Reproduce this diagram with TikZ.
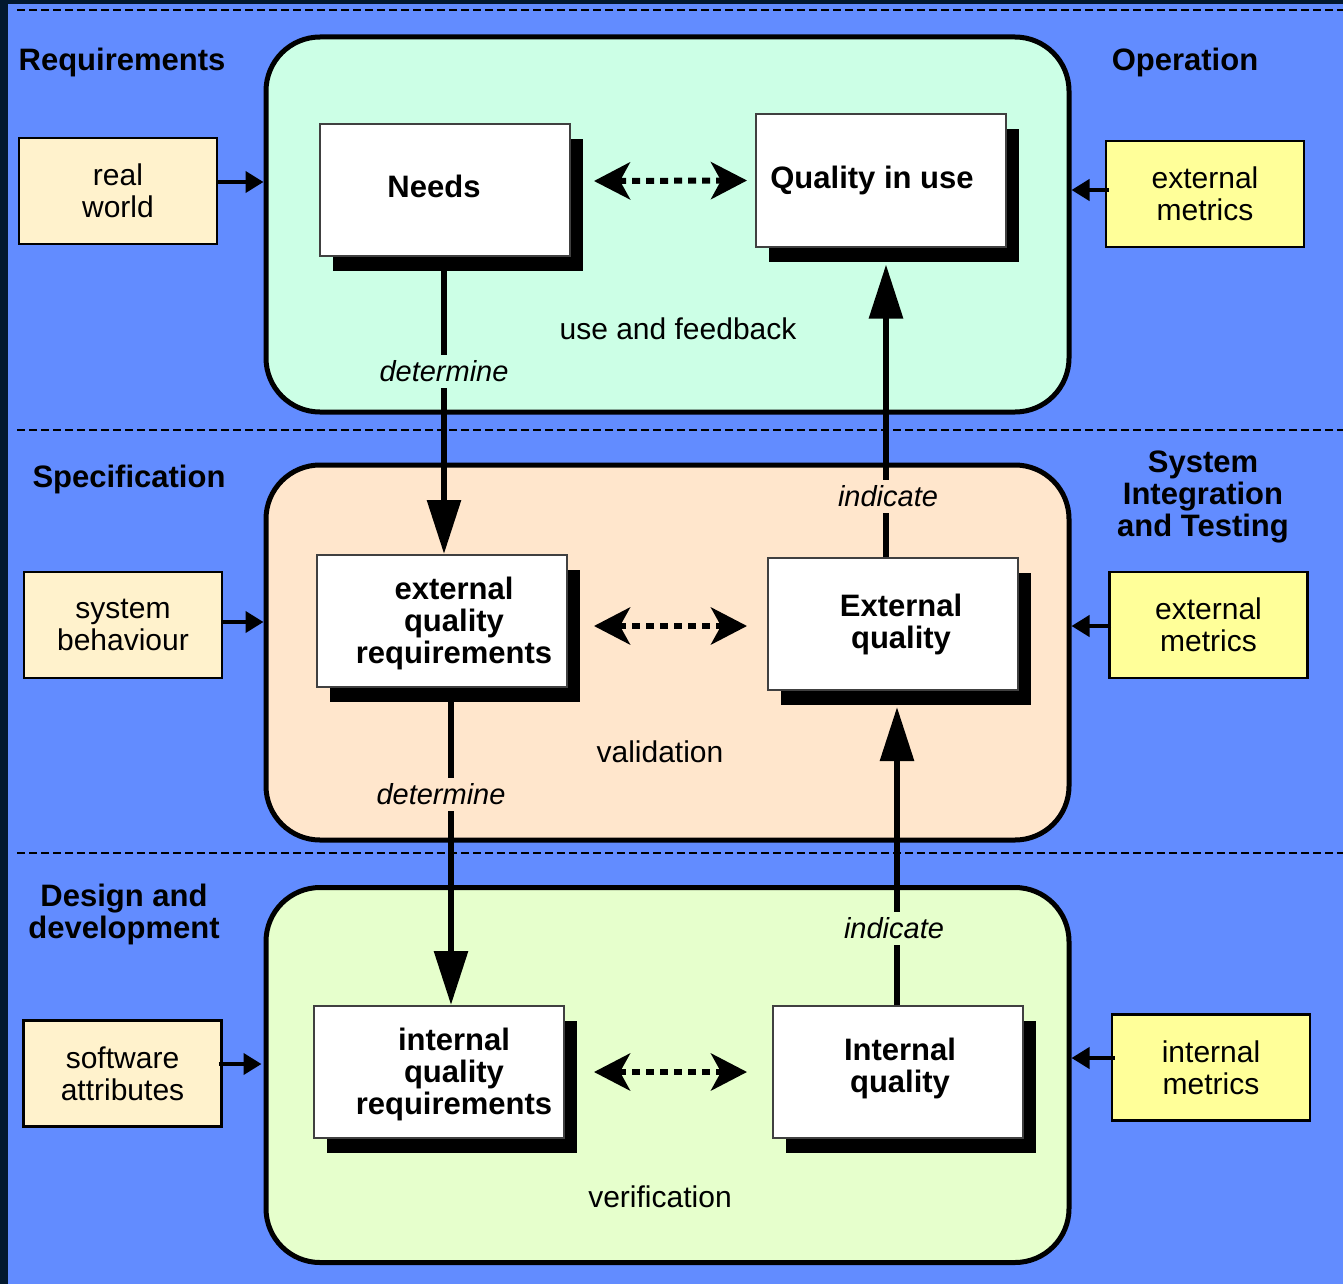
\documentclass[tikz,border=0pt]{standalone}
\usepackage{fontspec}
\setmainfont{Liberation Sans}
\usetikzlibrary{arrows.meta,shadows,calc}
\definecolor{bgblue}{HTML}{628CFF}
\definecolor{darkband}{HTML}{02182E}
\definecolor{mint}{HTML}{CCFFE6}
\definecolor{peach}{HTML}{FFE6CC}
\definecolor{lgreen}{HTML}{E6FFCC}
\definecolor{cream}{HTML}{FFF2CC}
\definecolor{lyellow}{HTML}{FFFF99}
\begin{document}
\begin{tikzpicture}[x=0.5pt,y=-0.5pt,
  region/.style={draw=black, line width=2.5pt, rounded corners=27pt, minimum width=401.5pt, minimum height=187.5pt, inner sep=0pt},
  inbox/.style={draw=black, line width=1.3pt, fill=cream, minimum width=99pt, minimum height=53pt, align=center, inner sep=0pt, font=\fontsize{15}{16}\selectfont},
  metbox/.style={inbox, fill=lyellow},
  qbox/.style={draw=black!75, line width=1pt, fill=white, minimum width=125pt, minimum height=66pt, inner sep=0pt,
    general shadow={fill=black, shadow xshift=6.5pt, shadow yshift=-7.5pt}},
  qtext/.style={align=center, font=\fontsize{15.5}{16}\selectfont\bfseries},
  phase/.style={align=center, font=\fontsize{15.5}{16}\selectfont\bfseries},
  note/.style={font=\fontsize{15}{16}\selectfont},
  verb/.style={font=\fontsize{14.5}{16}\selectfont\itshape, inner sep=3pt},
  bigarrow/.style={line width=3pt, -{Triangle[length=27pt,width=16.5pt]}},
  dotarrow/.style={line width=3pt, dash pattern=on 4pt off 3pt,
    {Stealth[length=18pt,width=18.5pt,inset=5pt]}-{Stealth[length=18pt,width=18.5pt,inset=5pt]}},
  smallarrow/.style={line width=2pt, -{Triangle[length=9pt,width=10.5pt]}},
  sep/.style={line width=0.9pt, dash pattern=on 4pt off 2pt}
]
\useasboundingbox (0,0) rectangle (1343,1284);
\fill[bgblue] (0,0) rectangle (1343,1284);
\fill[darkband] (0,0) rectangle (8,1284);
\fill[darkband] (0,0) rectangle (1343,4);

% separators
\draw[sep] (17,10) -- (1343,10);
\draw[sep] (17,430) -- (1343,430);
\draw[sep] (17,853) -- (1343,853);

% regions
\node[region, fill=mint] (top) at (667.5,224.5) {};
\node[region, fill=peach] (mid) at (667.5,652.5) {};
\node[region, fill=lgreen] (bot) at (667.5,1075) {};

% phase labels
\node[phase] (preq) at (122,62) {Requirements};
\node[phase] (pop) at (1185,62) {Operation};
\node[phase] (pspec) at (129,479) {Specification};
\node[phase] (psit) at (1203,497) {System\\Integration\\and Testing};
\node[phase] (pdd) at (124,914) {Design and\\development};

% input boxes
\node[inbox] (rw) at (118,191) {real\\world};
\node[inbox] (sb) at (123,625) {system\\behaviour};
\node[inbox] (sa) at (122.5,1073.5) {software\\attributes};
\node[metbox] (em1) at (1205,194) {external\\metrics};
\node[metbox] (em2) at (1208.5,625) {external\\metrics};
\node[metbox] (im) at (1211,1067.5) {internal\\metrics};

% quality boxes
\node[qbox] (needs) at (445,190) {};
\node[qbox] (qiu) at (881,180.5) {};
\node[qbox] (eqr) at (442,621) {};
\node[qbox] (eq) at (893,624) {};
\node[qbox] (iqr) at (439,1072) {};
\node[qbox] (iq) at (898,1072) {};

\node[qtext] (tneeds) at ([xshift=-5.5pt,yshift=2pt]needs.center) {Needs};
\node[qtext] (tqiu) at ([xshift=-4.5pt]qiu.center) {Quality in use};
\node[qtext] (teqr) at ([xshift=6pt,yshift=-1pt]eqr.center) {external\\quality\\requirements};
\node[qtext] (teq) at ([xshift=4pt]eq.center) {External\\quality};
\node[qtext] (tiqr) at ([xshift=7.5pt,yshift=-1pt]iqr.center) {internal\\quality\\requirements};
\node[qtext] (tiq) at ([xshift=1pt,yshift=2pt]iq.center) {Internal\\quality};

% region notes
\node[note] (nuf) at (678,329) {use and feedback};
\node[note] (nval) at (660,752) {validation};
\node[note] (nver) at (660,1197) {verification};

% input arrows
\draw[smallarrow] ([yshift=4.5pt]rw.east) -- ([yshift=4.5pt]rw.east -| top.west);
\draw[smallarrow] ([yshift=1.5pt]sb.east) -- ([yshift=1.5pt]sb.east -| mid.west);
\draw[smallarrow] ([xshift=-2pt,yshift=4.75pt]sa.east) -- ([xshift=-1pt,yshift=4.75pt]sa.east -| bot.west);
\draw[smallarrow] ([xshift=2pt,yshift=2pt]em1.west) -- ([yshift=2pt]em1.west -| top.east);
\draw[smallarrow] ([xshift=1.5pt,yshift=-0.5pt]em2.west) -- ([yshift=-0.5pt]em2.west -| mid.east);
\draw[smallarrow] ([xshift=2pt,yshift=4.75pt]im.west) -- ([yshift=4.75pt]im.west -| bot.east);

% dotted double arrows
\draw[dotarrow] ([xshift=11.5pt,yshift=4.5pt]needs.east) -- ([xshift=-4pt]qiu.west);
\draw[dotarrow] ([xshift=13pt,yshift=-2.5pt]eqr.east) -- ([xshift=-10pt,yshift=-1pt]eq.west);
\draw[dotarrow] ([xshift=14.5pt]iqr.east) -- ([xshift=-12.5pt]iq.west);

% vertical arrows
\draw[bigarrow] ([xshift=-0.5pt]needs.south) -- ([xshift=1pt]eqr.north)
  node[verb, fill=mint, pos=0.385] (d1) {determine};
\draw[bigarrow] ([xshift=4.5pt]eqr.south) -- ([xshift=6pt]iqr.north)
  node[verb, fill=peach, pos=0.335, xshift=-5pt] (d2) {determine};
\draw[bigarrow] ([xshift=-3.5pt]eq.north) -- ([xshift=2.5pt,yshift=-8.5pt]qiu.south)
  node[verb, fill=peach, pos=0.207, xshift=1pt] (i1) {indicate};
\draw[bigarrow] ([xshift=-0.5pt]iq.north) -- ([xshift=2pt,yshift=-8pt]eq.south)
  node[verb, fill=lgreen, pos=0.257, xshift=-1.5pt] (i2) {indicate};
\end{tikzpicture}
\end{document}
